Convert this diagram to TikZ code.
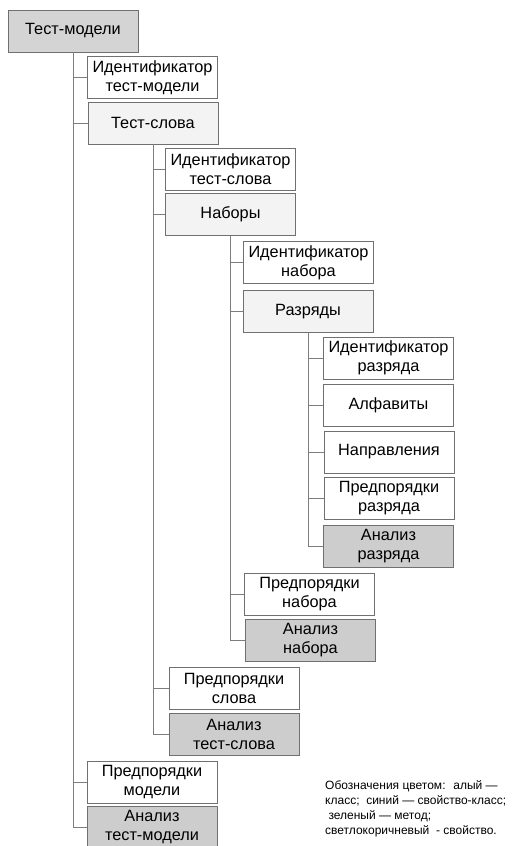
\documentclass[tikz,border=0pt]{standalone}
\usepackage{fontspec}
\setmainfont{Liberation Sans}
\usepackage{xcolor}
\usepackage{tikz}
\usetikzlibrary{positioning}
\definecolor{boxline}{RGB}{112,112,112}
\definecolor{treeline}{RGB}{125,125,125}
\definecolor{klassfill}{RGB}{212,212,212}
\definecolor{metodfill}{RGB}{205,205,205}
\definecolor{svklassfill}{RGB}{243,243,243}

\tikzset{
  elem/.style={draw=boxline, line width=0.9pt, minimum width=130pt, minimum height=42pt,
    inner sep=0pt, align=center, font=\fontsize{16.3}{19}\selectfont},
  klassbox/.style={elem, fill=klassfill},
  svklassbox/.style={elem, fill=svklassfill},
  metodbox/.style={elem, fill=metodfill},
  svoystvobox/.style={elem, fill=white},
  tree/.style={draw=treeline, line width=0.9pt},
}

\begin{document}
\begin{tikzpicture}[x=1pt, y=-1pt]

  % --- Fundo e moldura ---
  \fill[white] (0,0) rectangle (520,846);
  \useasboundingbox (0,0) rectangle (520,846);

  % --- Nível 0: classe ---
  \node[klassbox] (tm) at (73,31) {Тест-модели};

  % --- Nível 1 ---
  \node[svoystvobox] (idtm) at (152.5,77.5) {Идентификатор\\тест-модели};
  \node[svklassbox] (ts) at (153,123) {Тест-слова};

  % --- Nível 2 ---
  \node[svoystvobox] (idts) at (230.5,169.5) {Идентификатор\\тест-слова};
  \node[svklassbox] (nab) at (230.5,214.5) {Наборы};

  % --- Nível 3 ---
  \node[svoystvobox] (idnab) at (308.5,262.5) {Идентификатор\\набора};
  \node[svklassbox] (raz) at (308,311.5) {Разряды};

  % --- Nível 4 ---
  \node[svoystvobox] (idraz) at (388.5,358) {Идентификатор\\разряда};
  \node[svoystvobox] (alf) at (388.5,405.5) {Алфавиты};
  \node[svoystvobox] (napr) at (389,452) {Направления};
  \node[svoystvobox] (prraz) at (389,498.5) {Предпорядки\\разряда};
  \node[metodbox] (anraz) at (388.5,546) {Анализ\\разряда};

  % --- Fecho do nível 3 ---
  \node[svoystvobox] (prnab) at (309.5,594.5) {Предпорядки\\набора};
  \node[metodbox] (annab) at (310.5,640) {Анализ\\набора};

  % --- Fecho do nível 2 ---
  \node[svoystvobox] (prsl) at (234,688) {Предпорядки\\слова};
  \node[metodbox] (ansl) at (234,734) {Анализ\\тест-слова};

  % --- Fecho do nível 1 ---
  \node[svoystvobox] (prmod) at (152,782.5) {Предпорядки\\модели};
  \node[metodbox] (anmod) at (152,827) {Анализ\\тест-модели};

  % Ligações: tronco vertical sob o pai e ramo horizontal até o filho
  \foreach \p/\c in {tm/idtm, tm/ts, tm/prmod, tm/anmod,
                     ts/idts, ts/nab, ts/prsl, ts/ansl,
                     nab/idnab, nab/raz, nab/prnab, nab/annab,
                     raz/idraz, raz/alf, raz/napr, raz/prraz, raz/anraz}
    \draw[tree] (\p.south) |- (\c.west);

  % Legenda das cores
  \node[anchor=north west, align=left, inner sep=0pt, font=\fontsize{12}{15}\selectfont] (legenda) at (325,780)
    {Обозначения цветом:~ алый —\\класс;~ синий — свойство-класс;\\~зеленый — метод;\\светлокоричневый~ - свойство.};

\end{tikzpicture}
\end{document}
